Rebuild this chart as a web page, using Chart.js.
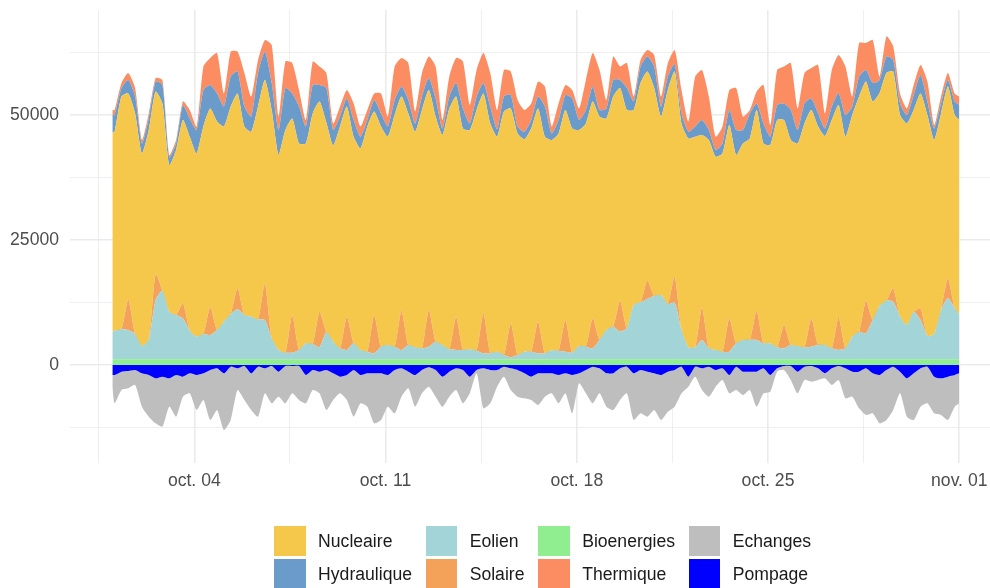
<!DOCTYPE html>
<html>
<head>
<meta charset="utf-8">
<script src="https://cdn.jsdelivr.net/npm/chart.js@4.4.0/dist/chart.umd.min.js"></script>
<style>
  body { margin: 0; background: #fff; }
  #wrap { position: relative; width: 990px; height: 588px; overflow: hidden; font-family: "Liberation Sans", Arial, sans-serif; }
  #legend { position: absolute; left: 274px; top: 526px; display: grid; grid-template-rows: 30px 30px; grid-auto-flow: column; column-gap: 13.6px; row-gap: 3px; }
  .item { display: flex; align-items: center; font-size: 17.6px; color: #1a1a1a; white-space: nowrap; }
  .sw { width: 31.5px; height: 30px; margin-right: 12.6px; }
</style>
</head>
<body>
<div id="wrap">
  <canvas id="chart" width="990" height="588"></canvas>
  <div id="legend"></div>
</div>
<script>
// Production par filiere (MW), octobre : 1er oct 0h, puis 2h / 8h / 14h / 20h chaque jour, puis 1er nov 0h
const sampleHours = [0];
for (let day = 0; day < 31; day++) {
    [2, 8, 14, 20].forEach(h => sampleHours.push(day * 24 + h));
}
sampleHours.push(744);

const bioenergies = [
    1150,
    1150, 1150, 1150, 1150,
    1150, 1150, 1150, 1150,
    1150, 1150, 1150, 1150,
    1150, 1150, 1150, 1150,
    1150, 1150, 1150, 1150,
    1150, 1150, 1150, 1150,
    1150, 1150, 1150, 1150,
    1150, 1150, 1150, 1150,
    1150, 1150, 1150, 1150,
    1150, 1150, 1150, 1150,
    1150, 1150, 1150, 1150,
    1150, 1150, 1150, 1150,
    1150, 1150, 1150, 1150,
    1150, 1150, 1150, 1150,
    1150, 1150, 1150, 1150,
    1150, 1150, 1150, 1150,
    1150, 1150, 1150, 1150,
    1150, 1150, 1150, 1150,
    1150, 1150, 1150, 1150,
    1150, 1150, 1150, 1150,
    1150, 1150, 1150, 1150,
    1150, 1150, 1150, 1150,
    1150, 1150, 1150, 1150,
    1150, 1150, 1150, 1150,
    1150, 1150, 1150, 1150,
    1150, 1150, 1150, 1150,
    1150, 1150, 1150, 1150,
    1150, 1150, 1150, 1150,
    1150, 1150, 1150, 1150,
    1150, 1150, 1150, 1150,
    1150, 1150, 1150, 1150,
    1150
];

const eolien = [
    5520,
    5720, 5980, 5850, 5050,
    2650, 3850, 11850, 13720,
    9520, 8850, 8180, 5720,
    4520, 5050, 4850, 5850,
    7520, 9050, 9980, 8850,
    8520, 7980, 7850, 4180,
    1850, 1320, 1320, 1850,
    3180, 3050, 2380, 5450,
    3520, 2180, 1850, 3180,
    1850, 1520, 1180, 2520,
    2850, 2520, 1850, 2850,
    2380, 2180, 2520, 3520,
    2850, 1980, 1850, 1850,
    1980, 1720, 1180, 1180,
    1520, 850, 380, 850,
    1520, 1520, 1180, 1180,
    1780, 1720, 1520, 1320,
    2650, 2520, 2180, 3850,
    5850, 6520, 5520, 6180,
    10850, 11380, 12050, 12650,
    12850, 11050, 11320, 5850,
    2380, 2380, 3850, 2180,
    1850, 1520, 1520, 3180,
    3850, 3850, 3850, 3180,
    3180, 2380, 2180, 2850,
    2650, 2380, 2520, 2850,
    2850, 2180, 1850, 2180,
    4520, 5520, 5180, 7850,
    10650, 11720, 11520, 8520,
    6850, 9520, 7850, 4650,
    5050, 9850, 12180, 10180,
    8850
];

const solaire = [
    0,
    0, 0, 6100, 0,
    0, 0, 5200, 0,
    0, 0, 3000, 0,
    0, 0, 5530, 0,
    0, 0, 4200, 0,
    0, 0, 7300, 0,
    0, 0, 7500, 0,
    0, 0, 7130, 0,
    0, 0, 6670, 0,
    0, 0, 7670, 0,
    0, 0, 7870, 0,
    0, 0, 7330, 0,
    0, 0, 6670, 0,
    0, 0, 8000, 0,
    0, 0, 6800, 0,
    0, 0, 6330, 0,
    0, 0, 6330, 0,
    0, 0, 6000, 0,
    0, 0, 6200, 0,
    0, 0, 3670, 0,
    0, 0, 5200, 0,
    0, 0, 6530, 0,
    0, 0, 6670, 0,
    0, 0, 5870, 0,
    0, 0, 4670, 0,
    0, 0, 5670, 0,
    0, 0, 6530, 0,
    0, 0, 6530, 0,
    0, 0, 2700, 0,
    0, 0, 2330, 0,
    0, 0, 4000, 0,
    0
];

const nucleaire = [
    39830,
    39780, 46570, 41200, 44100,
    38500, 42000, 36500, 37430,
    29330, 33000, 36670, 38780,
    36630, 41500, 39770, 41700,
    39030, 41500, 38970, 37700,
    36980, 42570, 40700, 45670,
    39000, 44530, 39330, 41300,
    39970, 46100, 42040, 41900,
    39230, 44370, 42030, 41320,
    40300, 45030, 40700, 44030,
    41650, 46330, 42830, 46300,
    43120, 47670, 44000, 45030,
    42000, 48170, 44030, 44300,
    43870, 48130, 43970, 45970,
    42980, 48700, 42970, 44300,
    42480, 44630, 42640, 43320,
    42070, 43430, 42000, 44830,
    43200, 44630, 43370, 44700,
    42300, 46030, 42530, 43670,
    39000, 43870, 41830, 41600,
    35700, 42800, 41030, 41300,
    41770, 42120, 34470, 41670,
    38650, 39630, 38660, 37670,
    39300, 40300, 40130, 39970,
    39670, 45470, 41000, 41000,
    40500, 44770, 41660, 43700,
    41800, 45670, 42470, 42320,
    44330, 47030, 43840, 43700,
    42600, 45530, 43330, 40330,
    40300, 40330, 42970, 44200,
    38800, 39300, 38370, 38670,
    39000
];

const hydraulique = [
    3500,
    3350, 1700, 2700, 3400,
    2000, 2300, 2000, 3700,
    1500, 1300, 3000, 3650,
    4700, 7300, 4700, 5600,
    4000, 6000, 4400, 4000,
    3050, 6700, 5700, 5400,
    5000, 8400, 5000, 7400,
    3400, 5700, 3300, 6900,
    3100, 2000, 1600, 3350,
    2350, 1300, 2300, 2600,
    2050, 3000, 2000, 2700,
    1650, 2700, 2400, 3600,
    1300, 2400, 2700, 4000,
    1300, 2700, 2100, 3400,
    1500, 3000, 2700, 1400,
    1500, 1700, 2400, 6050,
    1300, 2700, 3000, 6000,
    2000, 2700, 3000, 1300,
    2000, 3300, 1600, 4400,
    1700, 3300, 3000, 4300,
    2000, 2700, 1500, 2000,
    1350, 2050, 3000, 2000,
    1350, 2000, 3000, 5000,
    2700, 5000, 1300, 4000,
    1650, 3000, 3300, 6000,
    2700, 4000, 2300, 2600,
    1500, 2700, 2400, 4350,
    1700, 4000, 2300, 3700,
    2600, 3300, 2300, 2300,
    1700, 3000, 3700, 2700,
    2300, 2000, 1300, 2700,
    3000
];

const thermique = [
    1000,
    1000, 1000, 1400, 1700,
    700, 1000, 700, 1000,
    500, 700, 700, 1700,
    700, 4700, 5400, 8100,
    2600, 5000, 4000, 6700,
    4000, 2600, 2300, 7600,
    2700, 5300, 6100, 3300,
    1300, 4700, 3700, 3000,
    1300, 2000, 1700, 3300,
    2050, 2000, 1300, 4000,
    2000, 6700, 5700, 7400,
    2400, 4700, 4300, 6400,
    1700, 4000, 5000, 9400,
    3700, 5300, 6000, 6700,
    3850, 5300, 4700, 5300,
    4350, 3300, 3000, 4000,
    1400, 3300, 2000, 1700,
    2300, 6000, 6700, 8000,
    1700, 4700, 2700, 5000,
    1000, 1300, 1300, 2300,
    2000, 2700, 2800, 4700,
    2050, 10000, 10000, 6700,
    2650, 3400, 4000, 8400,
    2700, 700, 2400, 7700,
    2350, 7000, 7400, 9400,
    4300, 6100, 6100, 9700,
    3000, 7300, 7600, 9700,
    2000, 6700, 5400, 8600,
    700, 4000, 2700, 2000,
    1300, 2000, 2000, 4000,
    700, 1400, 1400, 1600,
    1700
];

const pompage = [
    -2000,
    -2000, -1330, -1200, -1000,
    -1670, -2000, -2670, -2330,
    -2670, -2000, -2330, -1670,
    -2000, -1670, -1000, -670,
    -1670, -330, -670, -200,
    -1670, -330, -670, -200,
    -1330, -200, -200, -200,
    -2000, -1000, -1330, -1000,
    -1670, -2330, -2000, -1000,
    -2000, -1670, -1670, -1670,
    -2000, -1000, -670, -1330,
    -2000, -1000, -470, -1000,
    -2330, -1330, -670, -1000,
    -2330, -1000, -670, -1000,
    -1000, -330, -670, -1000,
    -1670, -2330, -1670, -1670,
    -1670, -2000, -1670, -2000,
    -1670, -1000, -330, -670,
    -1670, -1670, -670, -330,
    -1670, -1000, -1330, -1670,
    -2000, -1330, -1000, -330,
    -2330, -330, -670, -330,
    -1000, -670, -2000, -330,
    -1330, -1330, -1330, -670,
    -2000, -670, -200, -200,
    -1330, -330, -200, -670,
    -1670, -670, -200, -670,
    -1330, -1330, -670, -1670,
    -2000, -1000, -330, -1330,
    -2670, -1670, -670, -330,
    -2330, -2670, -2330, -2000,
    -1670
];

const echanges = [
    -2330,
    -5670, -3670, -3470, -3000,
    -6660, -8330, -9000, -10000,
    -5660, -8330, -4000, -4000,
    -7000, -5330, -10000, -8330,
    -11330, -10670, -4330, -6800,
    -7330, -10000, -5000, -7470,
    -5000, -7470, -5470, -6800,
    -5670, -4000, -4340, -8000,
    -5330, -3340, -5000, -9330,
    -5670, -6660, -10000, -9330,
    -6330, -8670, -5660, -3340,
    -6330, -4670, -3860, -5330,
    -6000, -5000, -4330, -6670,
    -3340, -670, -8000, -6670,
    -3330, -2000, -4330, -5330,
    -5000, -4670, -6330, -4660,
    -4000, -5670, -4000, -7670,
    -2000, -4670, -7340, -5000,
    -6660, -7330, -6330, -5340,
    -9330, -8670, -9000, -7330,
    -9000, -8000, -7330, -5340,
    -2000, -2000, -4330, -6000,
    -3330, -2330, -3670, -4670,
    -4670, -3670, -7000, -5000,
    -3330, -660, -800, -2800,
    -4340, -2670, -3130, -2330,
    -1000, -3330, -2800, -6000,
    -5000, -7340, -9330, -8000,
    -9670, -10000, -8670, -4340,
    -7660, -9330, -7660, -7340,
    -7340, -7330, -8670, -6330,
    -6000
];

// axes
const xTickHours = [72, 240, 408, 576, 744];
const xTickLabels = ['oct. 04', 'oct. 11', 'oct. 18', 'oct. 25', 'nov. 01'];
const xMinorHours = [-12, 156, 324, 492, 660];
const yTicks = [0, 25000, 50000];
const yMinorTicks = [-12500, 12500, 37500, 62500];

const legendOrder = ['Nucleaire', 'Hydraulique', 'Eolien', 'Solaire', 'Bioenergies', 'Thermique', 'Echanges', 'Pompage'];

const seriesColors = {
    Nucleaire: '#F5C84C',
    Hydraulique: '#6A9BCB',
    Eolien: '#A2D4D8',
    Solaire: '#F4A15A',
    Bioenergies: '#90EE90',
    Thermique: '#FC8D62',
    Echanges: '#BEBEBE',
    Pompage: '#0000FF'
};

// ordre d'empilement (du bas vers le haut), negatifs a part
const stackOrder = [
    { name: 'Bioenergies', values: bioenergies, stack: 'pos' },
    { name: 'Eolien', values: eolien, stack: 'pos' },
    { name: 'Solaire', values: solaire, stack: 'pos' },
    { name: 'Nucleaire', values: nucleaire, stack: 'pos' },
    { name: 'Hydraulique', values: hydraulique, stack: 'pos' },
    { name: 'Thermique', values: thermique, stack: 'pos' },
    { name: 'Pompage', values: pompage, stack: 'neg' },
    { name: 'Echanges', values: echanges, stack: 'neg' }
];

const datasets = stackOrder.map((s, i) => ({
    label: s.name,
    data: sampleHours.map((h, k) => ({ x: h, y: s.values[k] })),
    stack: s.stack,
    fill: (i === 0 || stackOrder[i - 1].stack !== s.stack) ? 'origin' : '-1',
    backgroundColor: seriesColors[s.name],
    borderColor: seriesColors[s.name],
    borderWidth: 0,
    pointRadius: 0,
    tension: 0.2
}));

const GRID = '#EBEBEB';
const FONT = '"Liberation Sans", Arial, sans-serif';

// helpers : le contexte n'a pas toujours de tick
const isMajor = (list, c) => !!(c && c.tick && list.includes(c.tick.value));

const ctx = document.getElementById('chart').getContext('2d');
new Chart(ctx, {
    type: 'line',
    data: { datasets: datasets },
    options: {
        responsive: false,
        animation: false,
        events: [],
        layout: { padding: { top: 10, right: 0, bottom: 0, left: 0 } },
        plugins: {
            legend: { display: false },
            tooltip: { enabled: false }
        },
        scales: {
            x: {
                type: 'linear',
                bounds: 'data',
                min: -37.2,
                max: 771,
                afterBuildTicks: (scale) => {
                    scale.ticks = xMinorHours.concat(xTickHours).sort((a, b) => a - b).map(v => ({ value: v }));
                },
                afterFit: (scale) => { scale.height = 125; },
                border: { display: false },
                grid: {
                    color: GRID,
                    lineWidth: (c) => isMajor(xTickHours, c) ? 1.6 : 0.8,
                    drawTicks: true,
                    tickLength: 8,
                    tickColor: 'rgba(0,0,0,0)'
                },
                ticks: {
                    autoSkip: false,
                    maxRotation: 0,
                    padding: 0,
                    color: '#4D4D4D',
                    font: (c) => ({ family: FONT, size: (!c || !c.tick || isMajor(xTickHours, c)) ? 17.6 : 1 }),
                    callback: (v) => {
                        const i = xTickHours.indexOf(v);
                        return i >= 0 ? xTickLabels[i] : '';
                    }
                }
            },
            y: {
                stacked: true,
                bounds: 'data',
                min: -19600,
                max: 71000,
                afterBuildTicks: (scale) => {
                    scale.ticks = yMinorTicks.concat(yTicks).sort((a, b) => a - b).map(v => ({ value: v }));
                },
                afterFit: (scale) => { scale.width = 70; },
                border: { display: false },
                grid: {
                    color: GRID,
                    lineWidth: (c) => isMajor(yTicks, c) ? 1.6 : 0.8,
                    drawTicks: true,
                    tickLength: 11,
                    tickColor: 'rgba(0,0,0,0)'
                },
                ticks: {
                    padding: 0,
                    color: '#4D4D4D',
                    font: (c) => ({ family: FONT, size: (!c || !c.tick || isMajor(yTicks, c)) ? 17.6 : 1 }),
                    callback: (v) => yTicks.includes(v) ? String(v) : ''
                }
            }
        }
    }
});

// legende (2 lignes, remplie par colonnes)
const legendEl = document.getElementById('legend');
legendOrder.forEach(name => {
    const item = document.createElement('div');
    item.className = 'item';
    const sw = document.createElement('span');
    sw.className = 'sw';
    sw.style.background = seriesColors[name];
    const txt = document.createElement('span');
    txt.textContent = name;
    item.appendChild(sw);
    item.appendChild(txt);
    legendEl.appendChild(item);
});
</script>
</body>
</html>
